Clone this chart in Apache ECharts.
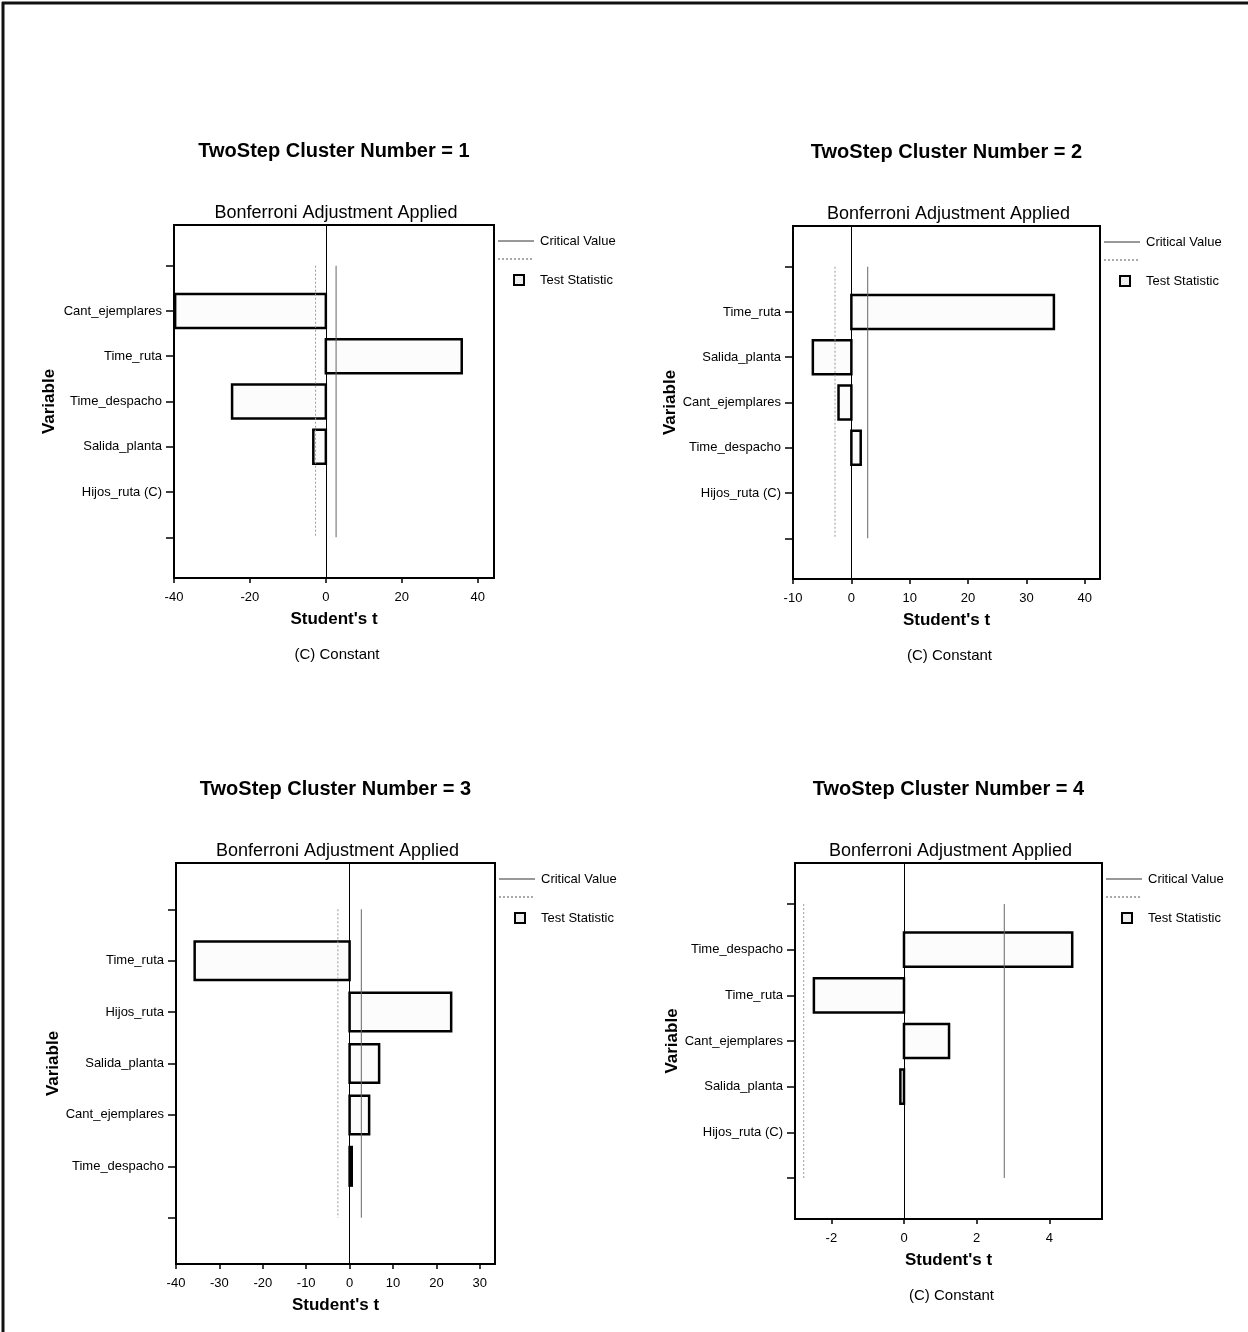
<!DOCTYPE html>
<html>
<head>
<meta charset="utf-8">
<script src="https://cdn.jsdelivr.net/npm/echarts@6/dist/echarts.min.js"></script>
<style>
html,body{margin:0;padding:0;background:#fff;}
#chart{width:1248px;height:1332px;}
</style>
</head>
<body>
<div id="chart"></div>
<script>
// ---------- DATA ----------
const clusterTitles = ['TwoStep Cluster Number = 1','TwoStep Cluster Number = 2','TwoStep Cluster Number = 3','TwoStep Cluster Number = 4'];
const subtitle = 'Bonferroni Adjustment Applied';
const vars1 = ['Cant_ejemplares','Time_ruta','Time_despacho','Salida_planta','Hijos_ruta (C)'];
const vars2 = ['Time_ruta','Salida_planta','Cant_ejemplares','Time_despacho','Hijos_ruta (C)'];
const vars3 = ['Time_ruta','Hijos_ruta','Salida_planta','Cant_ejemplares','Time_despacho'];
const vars4 = ['Time_despacho','Time_ruta','Cant_ejemplares','Salida_planta','Hijos_ruta (C)'];
const tstat1 = [-39.7, 35.8, -24.7, -3.3, null];
const tstat2 = [34.7, -6.6, -2.2, 1.6, null];
const tstat3 = [-35.7, 23.4, 6.8, 4.5, 0.5];
const tstat4 = [4.63, -2.48, 1.24, -0.1, null];
const critical = [2.7, 2.8, 2.7, 2.76];
const xTicks1 = [-40,-20,0,20,40];
const xTicks2 = [-10,0,10,20,30,40];
const xTicks3 = [-40,-30,-20,-10,0,10,20,30];
const xTicks4 = [-2,0,2,4];
const xRange1 = [-40, 44.3];
const xRange2 = [-10, 42.6];
const xRange3 = [-40, 33.5];
const xRange4 = [-3, 5.45];
const hasConstant = [true, true, false, true];

// ---------- LAYOUT ----------
const panels = [
  {vars:vars1, t:tstat1, ticks:xTicks1, range:xRange1, left:174, top:225, w:320, h:353, yGap:116},
  {vars:vars2, t:tstat2, ticks:xTicks2, range:xRange2, left:793, top:226, w:307, h:353, yGap:109},
  {vars:vars3, t:tstat3, ticks:xTicks3, range:xRange3, left:176, top:863, w:319, h:401, yGap:114},
  {vars:vars4, t:tstat4, ticks:xTicks4, range:xRange4, left:795, top:863, w:307, h:356, yGap:109}
];
const FONT = '"Liberation Sans", Arial, sans-serif';

const chart = echarts.init(document.getElementById('chart'), null, {renderer:'canvas'});

function renderBar(params, api){
  const x = api.value(0), y = api.value(1);
  const p0 = api.coord([0, y]);
  const p1 = api.coord([x, y]);
  const h = api.size([0, 0.75])[1];
  return {
    type:'rect',
    shape:{x:Math.min(p0[0],p1[0]), y:p0[1]-h/2, width:Math.max(Math.abs(p1[0]-p0[0]),1), height:h},
    style:{fill:'#fcfcfc', stroke:'#000', lineWidth:2.5}
  };
}

const grids=[], xAxes=[], yAxes=[], series=[], graphics=[];
panels.forEach((p,i)=>{
  grids.push({left:p.left, top:p.top, width:p.w, height:p.h, show:true, borderColor:'#000', borderWidth:2, backgroundColor:'rgba(0,0,0,0)'});
  xAxes.push({
    type:'value', gridIndex:i, min:p.range[0], max:p.range[1],
    axisLine:{show:true, onZero:false, lineStyle:{color:'#000', width:2}},
    axisTick:{show:true, length:5, customValues:p.ticks, lineStyle:{color:'#000', width:1.5}},
    axisLabel:{customValues:p.ticks, margin:13, color:'#000', fontSize:13, fontFamily:FONT},
    splitLine:{show:false},
    name:"Student's t", nameLocation:'middle', nameGap:33,
    nameTextStyle:{fontWeight:'bold', fontSize:17, color:'#000', fontFamily:FONT}
  });
  const names = p.vars;
  yAxes.push({
    type:'value', gridIndex:i, inverse:true, min:-0.9, max:6.9,
    axisLine:{show:true, onZero:false, lineStyle:{color:'#000', width:2}},
    axisTick:{show:true, length:8, customValues:[0,1,2,3,4,5,6], lineStyle:{color:'#000', width:1.5}},
    axisLabel:{customValues:[1,2,3,4,5], margin:12, color:'#000', fontSize:13, fontFamily:FONT,
      formatter:(v)=>names[Math.round(v)-1] || ''},
    splitLine:{show:false},
    name:'Variable', nameLocation:'middle', nameRotate:90, nameGap:p.yGap,
    nameTextStyle:{fontWeight:'bold', fontSize:17, color:'#000', fontFamily:FONT}
  });
  const barData = [];
  p.t.forEach((v,k)=>{ if(v!==null) barData.push([v, k+1]); });
  series.push({
    type:'custom', name:'Test Statistic', xAxisIndex:i, yAxisIndex:i,
    renderItem:renderBar, data:barData, clip:true, z:3,
    markLine:{silent:true, symbol:'none', label:{show:false}, lineStyle:{color:'#000', width:1, type:'solid'}, data:[{xAxis:0}]}
  });
  series.push({
    type:'line', name:'Critical Value', xAxisIndex:i, yAxisIndex:i, symbol:'none', z:4,
    lineStyle:{color:'#666', width:1, type:'solid'},
    data:[[critical[i],0],[critical[i],6]]
  });
  series.push({
    type:'line', name:'Critical Value (lower)', xAxisIndex:i, yAxisIndex:i, symbol:'none', z:4,
    lineStyle:{color:'#999', width:1, type:[2,2]},
    data:[[-critical[i],0],[-critical[i],6]]
  });

  const cx = p.left + p.w/2;
  graphics.push({type:'text', x:cx, y:p.top-74, style:{text:clusterTitles[i], font:'bold 20px '+FONT, fill:'#000', align:'center', verticalAlign:'middle'}});
  graphics.push({type:'text', x:cx+2, y:p.top-12, style:{text:subtitle, font:'18px '+FONT, fill:'#000', align:'center', verticalAlign:'middle'}});
  if(hasConstant[i]){
    graphics.push({type:'text', x:cx+3, y:p.top+p.h+77, style:{text:'(C) Constant', font:'15px '+FONT, fill:'#000', align:'center', verticalAlign:'middle'}});
  }
  // legend
  const lx = p.left + p.w + 4, ly = p.top + 16;
  graphics.push({type:'line', shape:{x1:lx, y1:ly, x2:lx+36, y2:ly}, style:{stroke:'#333', lineWidth:1}});
  graphics.push({type:'text', x:lx+42, y:ly, style:{text:'Critical Value', font:'13px '+FONT, fill:'#000', align:'left', verticalAlign:'middle'}});
  graphics.push({type:'line', shape:{x1:lx, y1:ly+18, x2:lx+36, y2:ly+18}, style:{stroke:'#555', lineWidth:1, lineDash:[2,2]}});
  graphics.push({type:'rect', shape:{x:lx+16, y:ly+34, width:10, height:10}, style:{fill:'#eee', stroke:'#000', lineWidth:2}});
  graphics.push({type:'text', x:lx+42, y:ly+39, style:{text:'Test Statistic', font:'13px '+FONT, fill:'#000', align:'left', verticalAlign:'middle'}});
});
// page frame (top and left edges)
graphics.push({type:'line', shape:{x1:2, y1:3, x2:1248, y2:3}, style:{stroke:'#111', lineWidth:3}});
graphics.push({type:'line', shape:{x1:3, y1:2, x2:3, y2:1332}, style:{stroke:'#111', lineWidth:3}});

chart.setOption({
  animation:false,
  backgroundColor:'#fff',
  grid:grids, xAxis:xAxes, yAxis:yAxes, series:series,
  graphic:{elements:graphics}
});
</script>
</body>
</html>
